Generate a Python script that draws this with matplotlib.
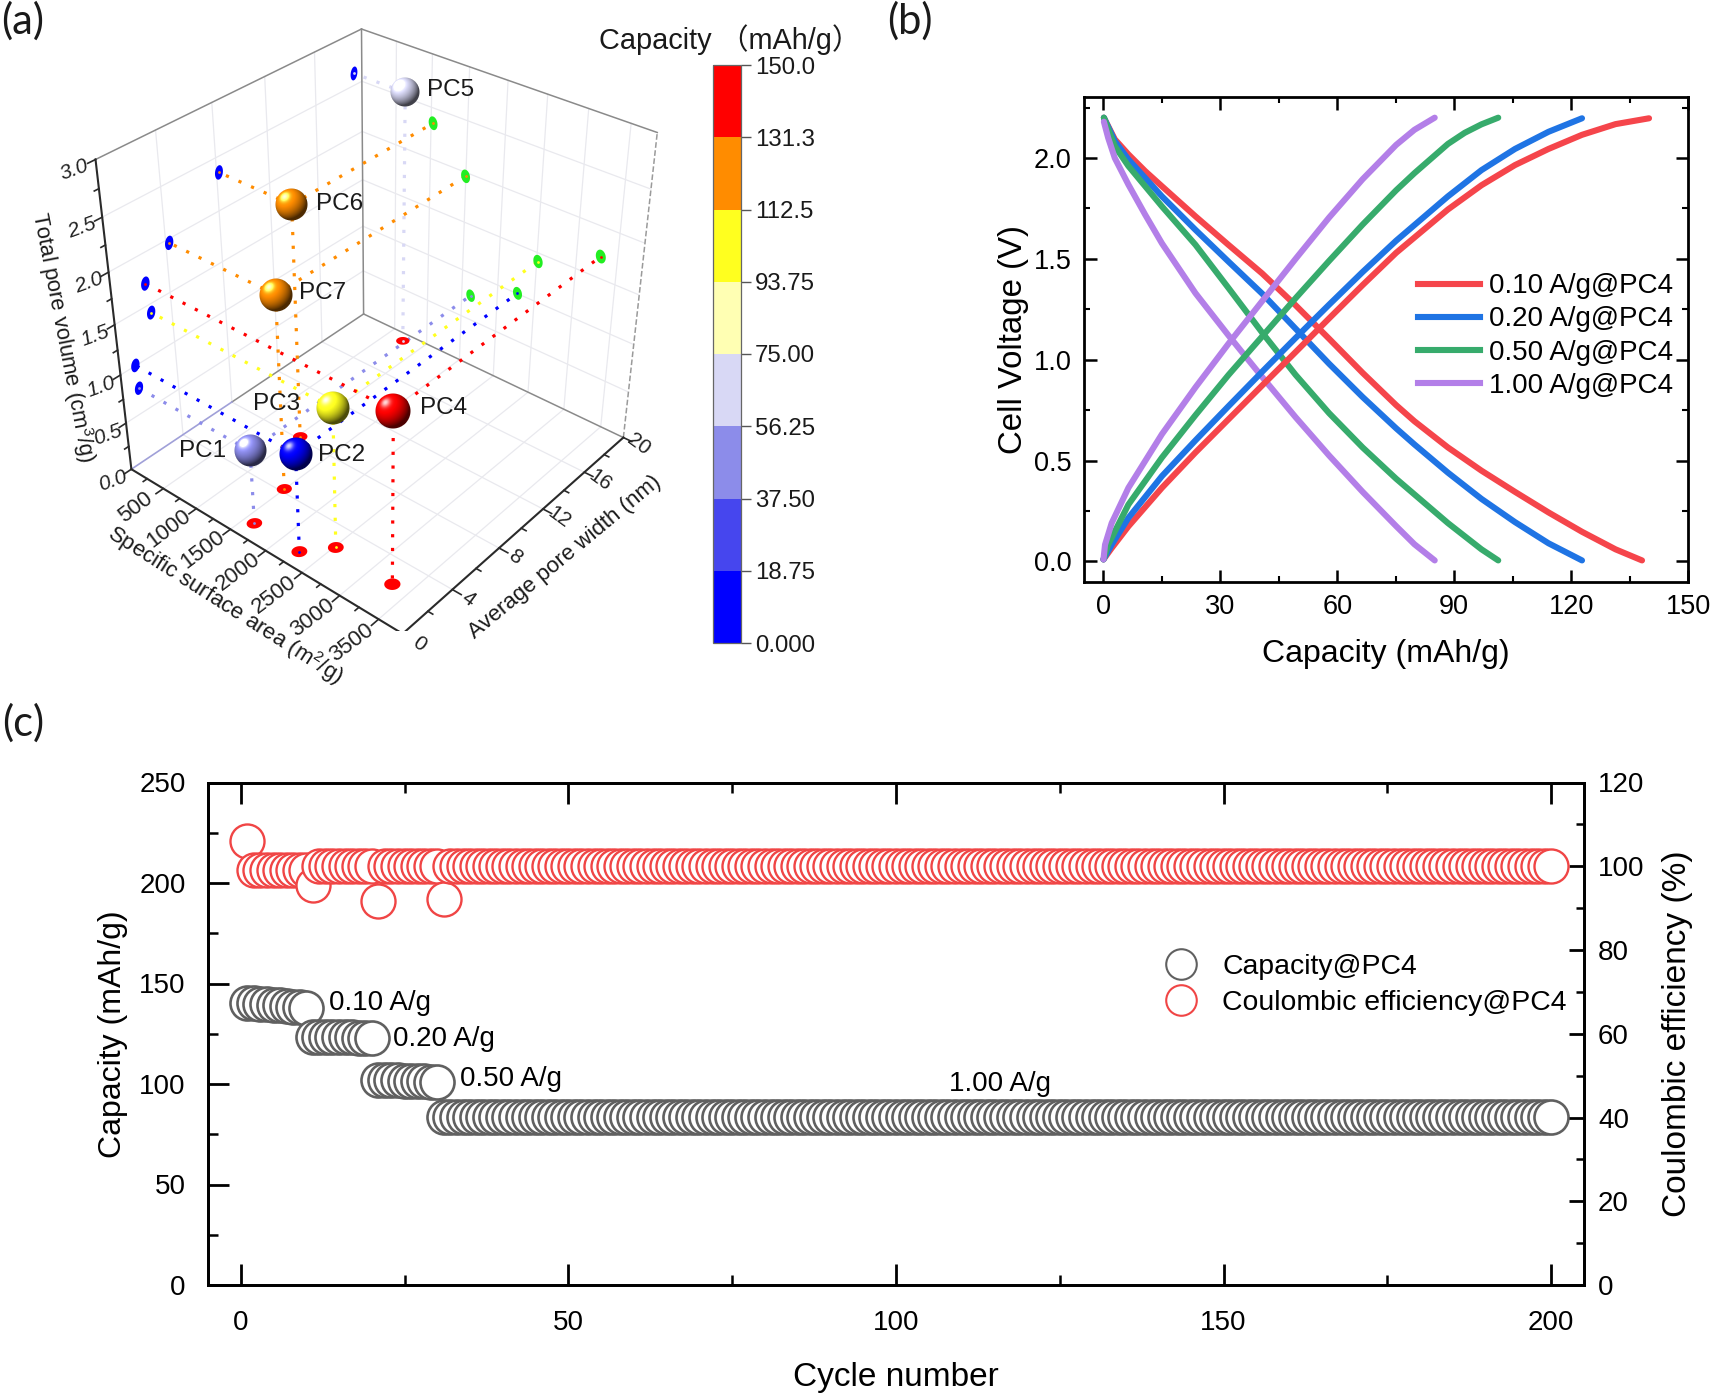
import numpy as np
import matplotlib
matplotlib.use('Agg')
import matplotlib.pyplot as plt
from matplotlib.colors import ListedColormap, BoundaryNorm
from matplotlib.lines import Line2D
from matplotlib.offsetbox import OffsetImage, AnnotationBbox
from matplotlib.ticker import MultipleLocator
from mpl_toolkits.mplot3d import proj3d
from mpl_toolkits.mplot3d.art3d import Poly3DCollection

plt.rcParams['font.family'] = 'Liberation Sans'
plt.rcParams['mathtext.fontset'] = 'custom'
plt.rcParams['mathtext.rm'] = 'Liberation Sans'
plt.rcParams['mathtext.default'] = 'regular'

# ---- panel a: pore structure data
samples = ['PC1', 'PC2', 'PC3', 'PC4', 'PC5', 'PC6', 'PC7']
surface_area = [1627, 2273, 2517, 3297, 738, 1028, 1496]
pore_width = [1.16, 1.08, 2.54, 2.34, 19.31, 8.18, 4.24]
pore_volume = [0.762, 1.004, 1.414, 1.713, 2.615, 2.353, 1.961]
sample_capacity = [45, 15, 100, 140, 65, 120, 122]
cbar_bounds = [0, 18.75, 37.5, 56.25, 75, 93.75, 112.5, 131.25, 150]
cbar_labels = ['0.000', '18.75', '37.50', '56.25', '75.00', '93.75', '112.5', '131.3', '150.0']
cbar_colors = ['#0000ff', '#4646ee', '#8c8cea', '#d8d8f5', '#ffffb3', '#ffff1f', '#ff8c00', '#ff0000']

# ---- panel b: charge and discharge curves
rates = ['0.10 A/g@PC4', '0.20 A/g@PC4', '0.50 A/g@PC4', '1.00 A/g@PC4']
rate_colors = ['#f5454b', '#1f74e4', '#37ab6c', '#b37fe8']
dis_cap = [
    [0.1, 2.9, 6.4, 10.7, 15, 23.6, 32.1, 40.7, 49.3, 57.9, 66.5, 75.1, 79.8, 88.4, 97, 105.6, 114.2, 122.8, 131.4, 138.2],
    [0.1, 2.9, 6.4, 10.7, 15, 23.6, 32.1, 40.7, 49.3, 57.9, 66.5, 75.1, 79.8, 88.4, 97, 105.6, 114.2, 122.8],
    [0.1, 2.9, 6.4, 10.7, 15, 23.6, 32.1, 40.7, 49.3, 57.9, 66.5, 75.1, 88.4, 97, 101.3],
    [0.1, 1.2, 2.9, 6.4, 10.7, 15, 23.6, 32.1, 40.7, 49.3, 57.9, 66.5, 75.1, 79.8, 85],
]
dis_v = [
    [2.2, 2.093, 2.018, 1.935, 1.86, 1.711, 1.569, 1.428, 1.27, 1.104, 0.935, 0.775, 0.695, 0.565, 0.45, 0.345, 0.243, 0.147, 0.06, 0.005],
    [2.2, 2.084, 1.993, 1.901, 1.81, 1.644, 1.486, 1.328, 1.154, 0.98, 0.815, 0.66, 0.58, 0.44, 0.31, 0.195, 0.09, 0.005],
    [2.2, 2.059, 1.96, 1.86, 1.76, 1.57, 1.355, 1.135, 0.925, 0.735, 0.565, 0.41, 0.19, 0.06, 0.005],
    [2.18, 2.10, 2.0, 1.868, 1.719, 1.577, 1.33, 1.12, 0.915, 0.715, 0.525, 0.345, 0.175, 0.085, 0.005],
]
chg_cap = [
    [0, 2.1, 6.4, 15, 23.6, 32.1, 40.7, 49.3, 57.9, 66.5, 75.1, 88.4, 97, 105.6, 114.2, 122.8, 131.4, 140],
    [0, 2.1, 6.4, 15, 23.6, 32.1, 40.7, 49.3, 57.9, 66.5, 75.1, 88.4, 97, 105.6, 114.2, 122.8],
    [0, 1.2, 6.4, 15, 23.6, 32.1, 40.7, 49.3, 57.9, 66.5, 75.1, 79.8, 88.4, 92.7, 97, 101.3],
    [0, 0.4, 2.1, 6.4, 15, 23.6, 32.1, 40.7, 49.3, 57.9, 66.5, 75.1, 79.8, 85],
]
chg_v = [
    [0.01, 0.066, 0.174, 0.365, 0.54, 0.705, 0.872, 1.038, 1.205, 1.37, 1.53, 1.745, 1.865, 1.965, 2.045, 2.115, 2.168, 2.197],
    [0.01, 0.083, 0.216, 0.423, 0.60, 0.77, 0.94, 1.108, 1.273, 1.435, 1.59, 1.81, 1.94, 2.045, 2.13, 2.197],
    [0.01, 0.083, 0.282, 0.515, 0.725, 0.925, 1.115, 1.305, 1.49, 1.67, 1.84, 1.925, 2.07, 2.125, 2.167, 2.2],
    [0.01, 0.083, 0.19, 0.365, 0.631, 0.863, 1.08, 1.29, 1.50, 1.705, 1.895, 2.065, 2.14, 2.2],
]

# ---- panel c: cycling data
cycles = list(range(1, 201))
capacity = ([140.3, 140.1, 139.9, 139.6, 139.4, 139.1, 138.8, 138.5, 138.2, 137.8]
            + [123.6, 123.5, 123.5, 123.4, 123.3, 123.3, 123.2, 123.1, 123.0, 122.9]
            + [102.1, 102.0, 101.9, 101.8, 101.7, 101.6, 101.5, 101.4, 101.2, 101.0]
            + [83.8] * 170)
efficiency = ([106.0] + [99.0] * 9 + [95.5] + [100.0] * 9 + [91.6] + [100.0] * 9
              + [92.2] + [100.0] * 169)
rate_notes = ['0.10 A/g', '0.20 A/g', '0.50 A/g', '1.00 A/g']
note_x = [13.4, 23.2, 33.4, 115.9]
note_y = [140.3, 122.5, 102.5, 99.9]

W, H = 1713, 1400
fig = plt.figure(figsize=(W / 100, H / 100), dpi=100)


def axes_px(left, top, right, bottom, **kw):
    return fig.add_axes([left / W, 1 - bottom / H, (right - left) / W, (bottom - top) / H], **kw)


def text_px(x, y, s, **kw):
    kw.setdefault('ha', 'center')
    kw.setdefault('va', 'center')
    return fig.text(x / W, 1 - y / H, s, **kw)


# ---- panel a
cmap = ListedColormap(cbar_colors)
norm = BoundaryNorm(cbar_bounds, cmap.N)
XMAX, YMAX, ZMAX = 3800, 20, 3.0

ax3 = fig.add_axes([0.03473, 0.54948, 0.36502, 0.44662], projection='3d')
ax3.set_axis_off()
ax3.computed_zorder = False
ax3.view_init(elev=34.2266, azim=-50.1055)
ax3.set_proj_type('persp', focal_length=0.4654)
ax3.set_box_aspect((0.9955, 1.0185, 1))
ax3.set_xlim(0, XMAX, view_margin=0)
ax3.set_ylim(0, YMAX, view_margin=0)
ax3.set_zlim(0, ZMAX, view_margin=0)
M3 = ax3.get_proj()


def seg(p, q, **kw):
    ax3.plot([p[0], q[0]], [p[1], q[1]], [p[2], q[2]], **kw)


def label3d(x, y, z, s, **kw):
    X, Y, _ = proj3d.proj_transform(x, y, z, M3)
    ax3.annotate(s, (X, Y), ha='center', va='center', rotation_mode='anchor', color='#222222',
                 annotation_clip=False, **kw)


grid = dict(color='#e9e9ee', lw=0.9, zorder=1)
for xv in range(500, 3501, 500):
    seg((xv, 0, 0), (xv, YMAX, 0), **grid)
    seg((xv, YMAX, 0), (xv, YMAX, ZMAX), **grid)
for yv in range(4, 17, 4):
    seg((0, yv, 0), (XMAX, yv, 0), **grid)
    seg((0, yv, 0), (0, yv, ZMAX), **grid)
for zv in np.arange(0.5, 3, 0.5):
    seg((0, 0, zv), (0, YMAX, zv), **grid)
    seg((0, YMAX, zv), (XMAX, YMAX, zv), **grid)

frame = dict(color='#8a8a8a', lw=1.1, zorder=2)
seg((0, 0, ZMAX), (0, YMAX, ZMAX), **frame)
seg((0, YMAX, ZMAX), (XMAX, YMAX, ZMAX), **frame)
seg((0, YMAX, 0), (0, YMAX, ZMAX), **frame)
seg((0, YMAX, 0), (XMAX, YMAX, 0), **frame)
seg((0, 8, 0), (0, YMAX, 0), **frame)
seg((0, 0, 0), (0, 8, 0), color='#a0a0d8', lw=1.2, zorder=2)
seg((XMAX, YMAX, 0), (XMAX, YMAX, ZMAX), color='#9a9a9a', lw=1.1, ls='--', zorder=2)

axis_line = dict(color='#2a2a2a', lw=1.5, zorder=3)
seg((0, 0, 0), (XMAX, 0, 0), **axis_line)
seg((XMAX, 0, 0), (XMAX, YMAX, 0), **axis_line)
seg((0, 0, 0), (0, 0, ZMAX), **axis_line)

tick = dict(color='#2a2a2a', lw=1.2, zorder=3)
for xv in np.arange(250, 3800, 250):
    seg((xv, 0, 0), (xv, -0.55 if xv % 500 == 0 else -0.3, 0), **tick)
for yv in np.arange(0, 21, 2):
    seg((XMAX, yv, 0), (XMAX + (110 if yv % 4 == 0 else 60), yv, 0), **tick)
for zv in np.arange(0, 3.01, 0.25):
    seg((0, 0, zv), (0, -0.5 if zv % 0.5 == 0 else -0.3, zv), **tick)

for xv in range(500, 3501, 500):
    label3d(xv, -2.05, 0, str(xv), fontsize=16, rotation=37)
for yv in range(0, 21, 4):
    label3d(XMAX + 200, yv, 0, str(yv), fontsize=15, rotation=-36)
for zv in np.arange(0, 3.01, 0.5):
    label3d(0, -1.35, zv, f'{zv:.1f}', fontsize=15, rotation=20, style='italic')

text_px(225, 605, 'Specific surface area (m$^{2}$/g)', fontsize=15.9, rotation=-32.5, color='#1a1a1a')
text_px(565, 557, 'Average pore width (nm)', fontsize=16, rotation=39.7, color='#1a1a1a')
text_px(63, 337, 'Total pore volume (cm$^{3}$/g)', fontsize=15.8, rotation=-79, color='#1a1a1a')

# flat circles where each sample is dropped on the floor and the two walls
angle = np.linspace(0, 2 * np.pi, 40)
ring_a, ring_b = np.cos(angle), np.sin(angle)
dots = dict(lw=2.3, ls=(0, (1, 3.3)), dash_capstyle='butt', zorder=5)
for xv, yv, zv, cv in zip(surface_area, pore_width, pore_volume, sample_capacity):
    col = cmap(norm(cv))
    seg((xv, yv, zv), (xv, yv, 0), color=col, **dots)
    seg((xv, yv, zv), (0, yv, zv), color=col, **dots)
    seg((xv, yv, zv), (xv, YMAX, zv), color=col, **dots)
    floor = np.c_[xv + 80 * ring_a, yv + 0.42 * ring_b, 0 * angle]
    left = np.c_[0 * angle, yv + 0.3 * ring_a, zv + 0.065 * ring_b]
    right = np.c_[xv + 62 * ring_a, YMAX + 0 * angle, zv + 0.065 * ring_b]
    ax3.add_collection3d(Poly3DCollection([floor], facecolor='#ff0000', edgecolor='none', zorder=6), autolim=False)
    ax3.add_collection3d(Poly3DCollection([left], facecolor='#0000ff', edgecolor='none', zorder=6), autolim=False)
    ax3.add_collection3d(Poly3DCollection([right], facecolor='#22ee22', edgecolor='none', zorder=6), autolim=False)
    ax3.scatter([xv, 0, xv], [yv, yv, YMAX], [0, zv, zv], s=4, color=[col], depthshade=False, linewidths=0, zorder=7)


def sphere_image(color, size):
    n = int(size)
    lin = (np.arange(n) + 0.5) / n * 2 - 1
    gx, gy = np.meshgrid(lin, lin)
    rr = gx ** 2 + gy ** 2
    nz = np.sqrt(np.clip(1 - rr, 0, 1))
    light = np.array([-0.42, -0.48, 0.77])
    diff = np.clip(gx * light[0] + gy * light[1] + nz * light[2], 0, 1)
    spec = diff ** 24
    rgb = np.array(color[:3])[None, None, :] * (0.3 + 0.85 * diff)[..., None] + 0.85 * spec[..., None]
    alpha = np.clip((1 - np.sqrt(rr)) * n / 2, 0, 1)
    return np.dstack([np.clip(rgb, 0, 1), alpha])


sphere_px = [33, 34, 34, 36, 30, 33, 34]
label_off = [(-47, 0), (46, -1), (-56, 4), (50, 3), (45, 2), (48, 1), (47, 2)]
for i, name in enumerate(samples):
    X, Y, _ = proj3d.proj_transform(surface_area[i], pore_width[i], pore_volume[i], M3)
    img = sphere_image(cmap(norm(sample_capacity[i])), sphere_px[i])
    box = AnnotationBbox(OffsetImage(img, zoom=1, dpi_cor=False), (X, Y), frameon=False, pad=0, zorder=8)
    ax3.add_artist(box)
    ax3.annotate(name, (X, Y), xytext=label_off[i], textcoords='offset pixels', ha='center', va='center',
                 fontsize=17.5, color='#1a1a1a', zorder=9)

cax = axes_px(713, 65, 741, 643)
cb = fig.colorbar(plt.cm.ScalarMappable(norm=norm, cmap=cmap), cax=cax, spacing='uniform', ticks=cbar_bounds)
cb.ax.set_yticklabels(cbar_labels, fontsize=17.3, color='#1a1a1a')
cb.ax.tick_params(length=7, width=1, color='#555555', pad=3)
cb.outline.set_edgecolor('#666666')
cb.outline.set_linewidth(0.9)
text_px(730, 40, 'Capacity （mAh/g）', fontsize=20.8, color='#1a1a1a',
        family=['Liberation Sans', 'Noto Sans CJK SC'])

# ---- panel b
axb = axes_px(1084, 96.5, 1688, 582)
for cap, v, col in zip(dis_cap, dis_v, rate_colors):
    axb.plot(cap, v, color=col, lw=4.4, solid_capstyle='round', solid_joinstyle='round')
for cap, v, col in zip(chg_cap, chg_v, rate_colors):
    axb.plot(cap, v, color=col, lw=4.4, solid_capstyle='round', solid_joinstyle='round')
axb.set_xlim(-5, 150)
axb.set_ylim(-0.102, 2.305)
axb.xaxis.set_major_locator(MultipleLocator(30))
axb.xaxis.set_minor_locator(MultipleLocator(15))
axb.yaxis.set_major_locator(MultipleLocator(0.5))
axb.yaxis.set_minor_locator(MultipleLocator(0.25))
axb.tick_params(which='major', direction='in', length=9, width=1.8, top=True, right=True, labelsize=19.5, pad=9)
axb.tick_params(which='minor', direction='in', length=4.5, width=1.5, top=True, right=True)
for sp in axb.spines.values():
    sp.set_linewidth(2)
axb.set_xlabel('Capacity (mAh/g)', fontsize=23, labelpad=13)
axb.set_ylabel('Cell Voltage (V)', fontsize=23.8, labelpad=3)
handles = [Line2D([], [], color=c, lw=4.4) for c in rate_colors]
axb.legend(handles, rates, loc='center left', bbox_to_anchor=(0.553, 0.5067), frameon=False, fontsize=20,
           handlelength=2.24, handletextpad=0.32, labelspacing=0.255, borderpad=0, borderaxespad=0)

# ---- panel c
axc = axes_px(208, 782.5, 1584, 1285)
axc.plot(cycles, capacity, ls='none', marker='o', ms=24.5, mfc='white', mec='#606060', mew=1.9)
axc.set_xlim(-5, 205)
axc.set_ylim(0, 250)
axc.xaxis.set_major_locator(MultipleLocator(50))
axc.xaxis.set_minor_locator(MultipleLocator(25))
axc.yaxis.set_major_locator(MultipleLocator(50))
axc.yaxis.set_minor_locator(MultipleLocator(25))
axc.tick_params(which='major', direction='in', length=15, width=2, top=True, labelsize=20, pad=8)
axc.tick_params(which='minor', direction='in', length=7.5, width=1.8, top=True)
axc.tick_params(axis='y', which='major', pad=16)
axc.tick_params(axis='x', which='major', pad=18)
axc.set_xlabel('Cycle number', fontsize=24, labelpad=18.5)
axc.set_ylabel('Capacity (mAh/g)', fontsize=23, labelpad=8)
for note, nx, ny in zip(rate_notes, note_x, note_y):
    axc.text(nx, ny, note, fontsize=20, va='center', ha='center' if note == '1.00 A/g' else 'left')

axr = axc.twinx()
axr.plot(cycles, efficiency, ls='none', marker='o', ms=24.5, mfc='white', mec='#f04545', mew=1.7)
axr.set_ylim(0, 120)
axr.yaxis.set_major_locator(MultipleLocator(20))
axr.yaxis.set_minor_locator(MultipleLocator(10))
axr.tick_params(which='major', direction='in', length=11, width=2, labelsize=20, pad=10)
axr.tick_params(which='minor', direction='in', length=5.5, width=1.8)
axr.set_ylabel('Coulombic efficiency (%)', fontsize=24, labelpad=13)
for sp in list(axc.spines.values()) + list(axr.spines.values()):
    sp.set_linewidth(2)
handles = [Line2D([], [], ls='none', marker='o', ms=22, mfc='none', mec=c, mew=1.5)
           for c in ['#606060', '#f04545']]
axr.legend(handles, ['Capacity@PC4', 'Coulombic efficiency@PC4'], loc='center left',
           bbox_to_anchor=(0.695, 0.597), frameon=False, fontsize=20.4,
           handlelength=1.2, handletextpad=0.85, labelspacing=0.35, borderpad=0, borderaxespad=0)

# ---- panel letters
for letter, lx, ly in [('(a)', 23, 21), ('(b)', 910, 21), ('(c)', 23, 723)]:
    text_px(lx, ly, letter, fontsize=30, family='Lato', color='#1a1a1a')

fig.savefig('out.png', dpi=100)
